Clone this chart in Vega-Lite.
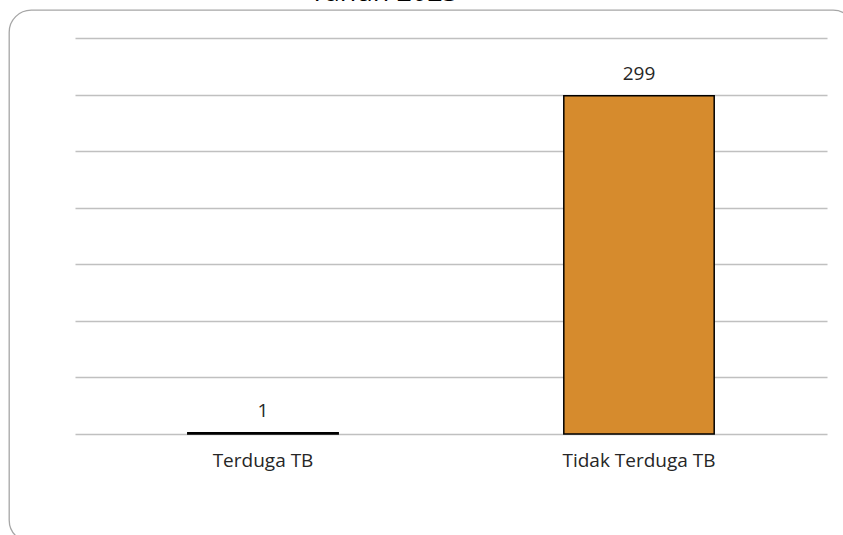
{
  "$schema": "https://vega.github.io/schema/vega-lite/v6.json",
  "autosize": {"type": "none"},
  "padding": {"left": 9, "top": 10, "right": 0, "bottom": 0},
  "width": 846,
  "height": 532,
  "background": "white",
  "title": {"text": "Tahun 2023", "font": "Open Sans", "fontSize": 27, "fontWeight": "normal", "color": "#000000", "anchor": "middle", "dx": -48, "dy": 20, "offset": 2, "baseline": "alphabetic"},
  "config": {"view": {"stroke": "#a6a6a6", "strokeWidth": 1.3, "cornerRadius": 22}},
  "data": {"values": [{"kategori": "Terduga TB", "jumlah": 1}, {"kategori": "Tidak Terduga TB", "jumlah": 299}]},
  "encoding": {
    "x": {"field": "kategori", "type": "nominal", "sort": null,
      "scale": {"range": [66, 818], "paddingInner": 0.6, "paddingOuter": 0.3},
      "axis": {"title": null, "labelAngle": 0, "ticks": false, "domain": false, "grid": false, "offset": -108, "labelPadding": 17, "labelFont": "Open Sans", "labelFontSize": 19, "labelColor": "#262626"}},
    "y": {"field": "jumlah", "type": "quantitative",
      "scale": {"domain": [0, 350], "range": [424, 28], "nice": false},
      "axis": {"title": null, "labels": false, "ticks": false, "domain": false, "values": [0, 50, 100, 150, 200, 250, 300, 350], "gridColor": "#c0c0c0", "gridWidth": 1.3}}
  },
  "layer": [
    {"mark": {"type": "bar", "color": "#d68b2d", "stroke": "#000000", "strokeWidth": 1.5}},
    {"mark": {"type": "text", "baseline": "alphabetic", "dy": -16, "font": "Open Sans", "fontSize": 19, "color": "#262626"}, "encoding": {"text": {"field": "jumlah"}}}
  ]
}
